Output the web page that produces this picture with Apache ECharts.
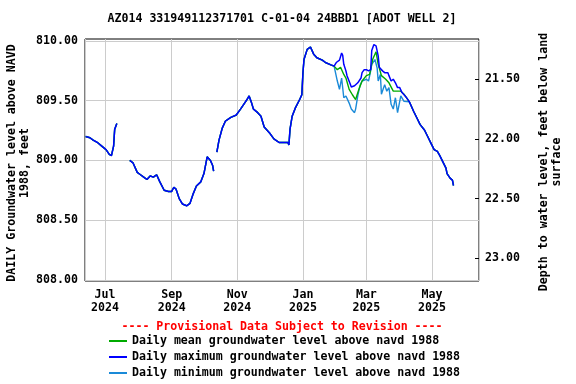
<!DOCTYPE html>
<html>
<head>
<meta charset="utf-8">
<script src="https://cdn.jsdelivr.net/npm/echarts@6/dist/echarts.min.js"></script>
<style>html,body{margin:0;padding:0;background:#fff}#c{width:576px;height:384px}</style>
</head>
<body>
<div id="c"></div>
<script>
// ---------- data ----------
const monthNames = ['Jan','Feb','Mar','Apr','May','Jun','Jul','Aug','Sep','Oct','Nov','Dec'];
const landSurface = 831.18; // land surface elevation, ft NAVD88 (depth = landSurface - level)

const summer2024 = [
  ['2024-06-13', 809.20], ['2024-06-17', 809.19], ['2024-06-20', 809.17], ['2024-06-24', 809.15],
  ['2024-06-28', 809.12], ['2024-07-02', 809.09], ['2024-07-05', 809.05], ['2024-07-07', 809.04],
  ['2024-07-09', 809.12], ['2024-07-10', 809.26], ['2024-07-12', 809.31]
];
const gapJuly = [['2024-07-18', null]];
const lateSummer2024 = [
  ['2024-07-24', 809.00], ['2024-07-27', 808.98], ['2024-07-31', 808.90], ['2024-08-03', 808.88],
  ['2024-08-06', 808.86], ['2024-08-09', 808.84], ['2024-08-12', 808.87], ['2024-08-15', 808.86],
  ['2024-08-18', 808.88], ['2024-08-21', 808.82], ['2024-08-25', 808.75], ['2024-08-29', 808.74],
  ['2024-09-01', 808.74], ['2024-09-03', 808.775], ['2024-09-05', 808.76], ['2024-09-08', 808.68],
  ['2024-09-11', 808.635], ['2024-09-15', 808.62], ['2024-09-18', 808.64], ['2024-09-21', 808.72],
  ['2024-09-24', 808.785], ['2024-09-28', 808.82], ['2024-10-01', 808.89], ['2024-10-04', 809.03],
  ['2024-10-07', 809.00], ['2024-10-09', 808.96], ['2024-10-10', 808.91]
];
const gapOctober = [['2024-10-12', null]];
const fallWinter = [
  ['2024-10-13', 809.07], ['2024-10-15', 809.17], ['2024-10-18', 809.27], ['2024-10-21', 809.33],
  ['2024-10-26', 809.36], ['2024-10-31', 809.38], ['2024-11-04', 809.43], ['2024-11-07', 809.47],
  ['2024-11-10', 809.51], ['2024-11-12', 809.54], ['2024-11-14', 809.49], ['2024-11-16', 809.43],
  ['2024-11-20', 809.40], ['2024-11-23', 809.37], ['2024-11-26', 809.28], ['2024-12-01', 809.23],
  ['2024-12-05', 809.18], ['2024-12-10', 809.15], ['2024-12-18', 809.15], ['2024-12-19', 809.13],
  ['2024-12-20', 809.26], ['2024-12-22', 809.37], ['2024-12-25', 809.44], ['2024-12-29', 809.51],
  ['2024-12-31', 809.55], ['2025-01-01', 809.73], ['2025-01-02', 809.845], ['2025-01-05', 809.93],
  ['2025-01-08', 809.95], ['2025-01-11', 809.89], ['2025-01-14', 809.86], ['2025-01-19', 809.84],
  ['2025-01-22', 809.82], ['2025-01-27', 809.80], ['2025-01-30', 809.79]
];
const maxLateWinter = [
  ['2025-02-01', 809.82], ['2025-02-04', 809.84], ['2025-02-06', 809.90], ['2025-02-07', 809.88],
  ['2025-02-08', 809.805], ['2025-02-10', 809.75], ['2025-02-11', 809.71], ['2025-02-14', 809.64],
  ['2025-02-15', 809.615], ['2025-02-18', 809.625], ['2025-02-21', 809.65], ['2025-02-24', 809.69],
  ['2025-02-25', 809.735], ['2025-02-27', 809.76], ['2025-03-01', 809.76], ['2025-03-03', 809.75],
  ['2025-03-05', 809.76], ['2025-03-06', 809.92], ['2025-03-08', 809.97], ['2025-03-10', 809.96],
  ['2025-03-12', 809.875], ['2025-03-13', 809.78], ['2025-03-16', 809.75], ['2025-03-18', 809.735],
  ['2025-03-21', 809.735], ['2025-03-22', 809.71], ['2025-03-24', 809.665], ['2025-03-26', 809.68],
  ['2025-03-28', 809.65], ['2025-03-30', 809.61], ['2025-04-01', 809.61], ['2025-04-03', 809.57],
  ['2025-04-07', 809.53]
];
const meanLateWinter = [
  ['2025-02-02', 809.76], ['2025-02-05', 809.78], ['2025-02-08', 809.72], ['2025-02-10', 809.69],
  ['2025-02-13', 809.595], ['2025-02-16', 809.55], ['2025-02-19', 809.51], ['2025-02-22', 809.595],
  ['2025-02-25', 809.665], ['2025-03-01', 809.71], ['2025-03-04', 809.72], ['2025-03-07', 809.85],
  ['2025-03-10', 809.91], ['2025-03-12', 809.805], ['2025-03-15', 809.71], ['2025-03-19', 809.68],
  ['2025-03-22', 809.65], ['2025-03-26', 809.58], ['2025-03-30', 809.58], ['2025-04-02', 809.58],
  ['2025-04-05', 809.555]
];
const minLateWinter = [
  ['2025-02-02', 809.665], ['2025-02-04', 809.595], ['2025-02-06', 809.69], ['2025-02-08', 809.525],
  ['2025-02-10', 809.54], ['2025-02-13', 809.48], ['2025-02-15', 809.43], ['2025-02-18', 809.40],
  ['2025-02-19', 809.43], ['2025-02-21', 809.54], ['2025-02-23', 809.625], ['2025-02-25', 809.665],
  ['2025-03-01', 809.68], ['2025-03-03', 809.665], ['2025-03-05', 809.75], ['2025-03-06', 809.805],
  ['2025-03-09', 809.845], ['2025-03-11', 809.775], ['2025-03-12', 809.665], ['2025-03-14', 809.72],
  ['2025-03-15', 809.555], ['2025-03-18', 809.635], ['2025-03-20', 809.58], ['2025-03-22', 809.61],
  ['2025-03-24', 809.47], ['2025-03-26', 809.43], ['2025-03-28', 809.525], ['2025-03-30', 809.40],
  ['2025-04-02', 809.54], ['2025-04-05', 809.495]
];
const spring2025 = [
  ['2025-04-10', 809.49], ['2025-04-11', 809.47], ['2025-04-14', 809.41], ['2025-04-17', 809.355],
  ['2025-04-20', 809.30], ['2025-04-24', 809.255], ['2025-04-27', 809.20], ['2025-04-30', 809.145],
  ['2025-05-03', 809.09], ['2025-05-06', 809.075], ['2025-05-08', 809.045], ['2025-05-11', 808.99],
  ['2025-05-14', 808.935], ['2025-05-15', 808.89], ['2025-05-18', 808.85], ['2025-05-20', 808.835],
  ['2025-05-21', 808.79]
];

// ---------- build series ----------
const common = [].concat(summer2024, gapJuly, lateSummer2024, gapOctober, fallWinter);
const meanData = common.concat(meanLateWinter, spring2025);
const maxData = common.concat(maxLateWinter, spring2025);
const minData = common.concat(minLateWinter, spring2025);

const levelMin = 807.99, levelMax = 810.017;
const FONT = 'DejaVu Sans Mono';
const FS = 11.6;
const txt = {fontFamily: FONT, fontSize: FS, fontWeight: 'bold', color: '#000'};

const chart = echarts.init(document.getElementById('c'), null, {renderer: 'canvas'});
chart.setOption({
  animation: false,
  backgroundColor: '#fff',
  grid: {left: 85, right: 97, top: 39, bottom: 103, show: true, borderColor: '#000', borderWidth: 1, backgroundColor: 'transparent'},
  xAxis: {
    type: 'time',
    min: new Date(2024, 5, 12, 10).getTime(),
    max: new Date(2025, 5, 13, 17).getTime(),
    minInterval: 60 * 86400000,
    maxInterval: 62 * 86400000,
    axisLine: {show: false},
    axisTick: {show: false},
    splitLine: {show: true, lineStyle: {color: '#cccccc', width: 1}},
    axisLabel: Object.assign({}, txt, {
      margin: 7, lineHeight: 13,
      formatter: function (v) { const d = new Date(v); return monthNames[d.getMonth()] + '\n' + d.getFullYear(); }
    })
  },
  yAxis: [{
    type: 'value', min: levelMin, max: levelMax, splitNumber: 4,
    axisLine: {show: false}, axisTick: {show: false},
    splitLine: {show: true, showMinLine: false, showMaxLine: false, lineStyle: {color: '#cccccc', width: 1}},
    axisLabel: Object.assign({}, txt, {margin: 7, showMinLabel: false, showMaxLabel: false,
      formatter: function (v) { return v.toFixed(2); }})
  }, {
    type: 'value', inverse: true,
    min: landSurface - levelMax, max: landSurface - levelMin, splitNumber: 4,
    axisLine: {show: false},
    axisTick: {show: true, inside: true, length: 4, lineStyle: {color: '#000'}},
    splitLine: {show: false},
    axisLabel: Object.assign({}, txt, {margin: 6, showMinLabel: false, showMaxLabel: false,
      formatter: function (v) { return v.toFixed(2); }})
  }],
  legend: {
    orient: 'vertical', left: 109, top: 333, height: 50, padding: 0, itemGap: 0, itemWidth: 18, itemHeight: 2, icon: 'rect',
    textStyle: Object.assign({}, txt, {lineHeight: 16}),
    data: ['Daily mean groundwater level above navd 1988',
           'Daily maximum groundwater level above navd 1988',
           'Daily minimum groundwater level above navd 1988']
  },
  graphic: [
    {type: 'text', x: 282, y: 19, style: Object.assign({text: 'AZ014 331949112371701 C-01-04 24BBD1 [ADOT WELL 2]', fill: '#000', align: 'center', verticalAlign: 'middle', font: 'bold ' + FS + 'px "' + FONT + '"'})},
    {type: 'text', x: 282, y: 327, style: {text: '---- Provisional Data Subject to Revision ----', fill: '#ff0000', align: 'center', verticalAlign: 'middle', font: 'bold ' + FS + 'px "' + FONT + '"'}},
    {type: 'text', x: 18, y: 163, rotation: Math.PI / 2, style: {text: 'DAILY Groundwater level above NAVD\n1988, feet', fill: '#000', align: 'center', verticalAlign: 'middle', lineHeight: 13, font: 'bold ' + FS + 'px "' + FONT + '"'}},
    {type: 'text', x: 550, y: 162, rotation: Math.PI / 2, style: {text: 'Depth to water level, feet below land\nsurface', fill: '#000', align: 'center', verticalAlign: 'middle', lineHeight: 13, font: 'bold ' + FS + 'px "' + FONT + '"'}}
  ],
  series: [
    {name: 'Daily minimum groundwater level above navd 1988', type: 'line', data: minData, showSymbol: false, symbol: 'none',
     connectNulls: false, color: '#1a8ad8', lineStyle: {width: 1.4, color: '#1a8ad8'}, z: 2},
    {name: 'Daily mean groundwater level above navd 1988', type: 'line', data: meanData, showSymbol: false, symbol: 'none',
     connectNulls: false, color: '#00aa00', lineStyle: {width: 1.4, color: '#00aa00'}, z: 3},
    {name: 'Daily maximum groundwater level above navd 1988', type: 'line', data: maxData, showSymbol: false, symbol: 'none',
     connectNulls: false, color: '#0000ff', lineStyle: {width: 1.5, color: '#0000ff'}, z: 4}
  ]
});
</script>
</body>
</html>
